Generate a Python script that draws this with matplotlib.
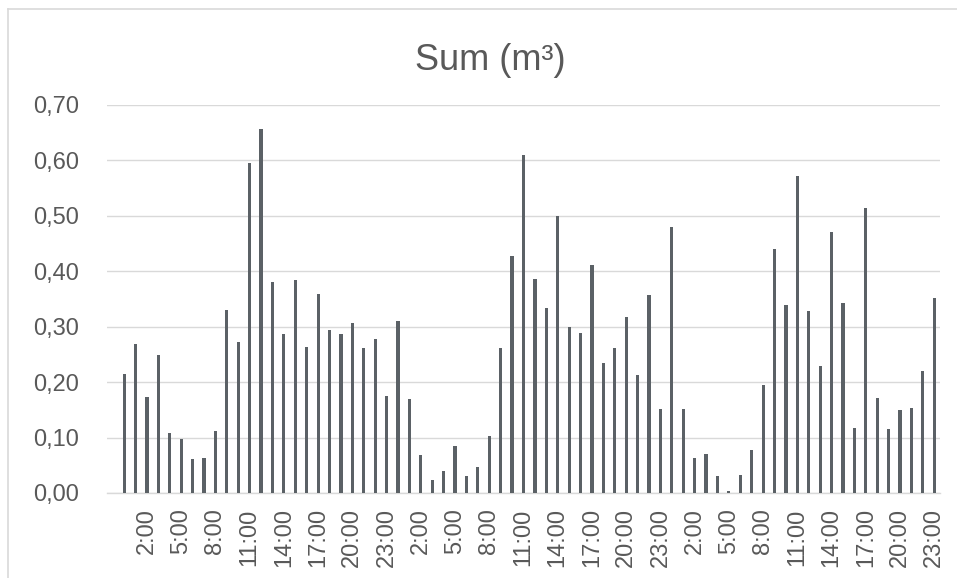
import matplotlib.pyplot as plt
from matplotlib.lines import Line2D

# hourly sums over three days (m3)
day1 = [0.215, 0.269, 0.173, 0.249, 0.108, 0.098, 0.062, 0.064, 0.112, 0.331, 0.272, 0.596,
        0.656, 0.380, 0.287, 0.385, 0.264, 0.359, 0.294, 0.287, 0.306, 0.261, 0.278, 0.175]
day2 = [0.311, 0.169, 0.068, 0.024, 0.039, 0.085, 0.031, 0.047, 0.103, 0.262, 0.427, 0.609,
        0.386, 0.334, 0.499, 0.300, 0.288, 0.412, 0.234, 0.262, 0.318, 0.212, 0.358, 0.151]
day3 = [0.480, 0.152, 0.063, 0.071, 0.031, 0.004, 0.032, 0.078, 0.195, 0.440, 0.340, 0.572,
        0.329, 0.230, 0.471, 0.343, 0.118, 0.514, 0.171, 0.115, 0.150, 0.153, 0.220, 0.352]
hours = list(range(24)) * 3
values = day1 + day2 + day3
yticks = [0.0, 0.1, 0.2, 0.3, 0.4, 0.5, 0.6, 0.7]

TXT = '#595959'
GRID = '#d9d9d9'
plt.rcParams['font.family'] = ['Liberation Sans', 'DejaVu Sans']

fig = plt.figure(figsize=(9.57, 5.78), dpi=100)
ax = fig.add_axes([107/957, 85/578, 833/957, 388/578])

x = list(range(len(values)))
ax.bar(x, values, width=0.28, color='#5b6166', zorder=3)

ax.set_xlim(-1.5, len(values) - 0.5)
ax.set_ylim(0, 0.7)
ax.set_yticks(yticks)
ax.set_yticklabels([f'{v:.2f}'.replace('.', ',') for v in yticks])

tpos = [i for i, h in enumerate(hours) if h % 3 == 2]
ax.set_xticks(tpos)
ax.set_xticklabels([f'{hours[i]}:00' for i in tpos], rotation=90, va='top', ha='center')

ax.grid(axis='y', color=GRID, lw=1.0, zorder=0)
for s in ['top', 'right', 'left']:
    ax.spines[s].set_visible(False)
ax.spines['bottom'].set_color(GRID)
ax.spines['bottom'].set_linewidth(1.0)
ax.tick_params(axis='y', length=0, pad=20, labelsize=17, labelcolor=TXT)
ax.tick_params(axis='x', length=0, pad=11, labelsize=17, labelcolor=TXT)

fig.text(490/957, 1 - 61/578, 'Sum (m³)', ha='center', va='center', fontsize=26, color=TXT)

# chart-area border (cut off at right / bottom)
fig.add_artist(Line2D([8/957, 8/957], [0, 1 - 9/578], color=GRID, lw=1.2))
fig.add_artist(Line2D([8/957, 1], [1 - 9/578, 1 - 9/578], color=GRID, lw=1.2))

fig.savefig('out.png', dpi=100, facecolor='white')
